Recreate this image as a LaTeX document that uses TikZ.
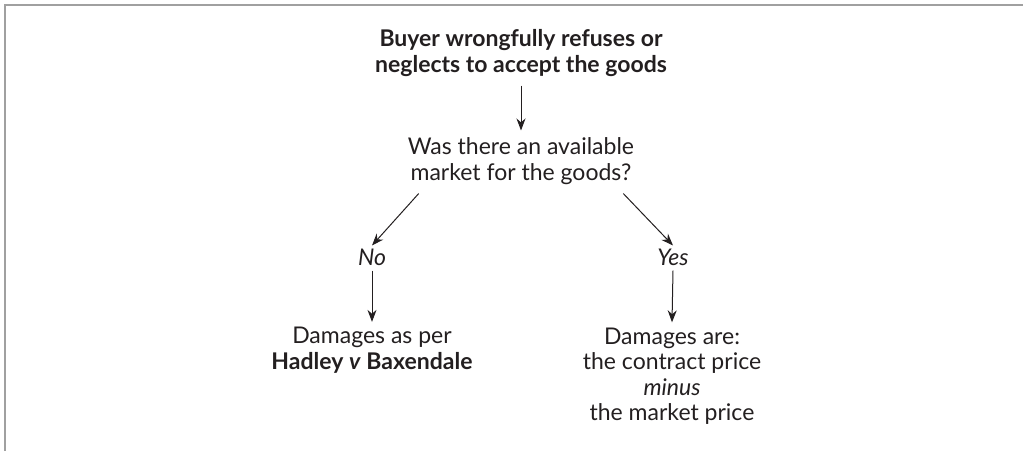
\documentclass[tikz,border=0pt]{standalone}
\usepackage{fontspec}
\setmainfont{Lato}
\usepackage{tikz}
\usetikzlibrary{arrows.meta,positioning,calc}
\definecolor{framegrey}{RGB}{160,160,160}
\definecolor{inkgrey}{RGB}{35,31,32}
\tikzset{
  step text/.style={
    align=center,
    inner sep=3pt,
    text=inkgrey,
    font=\fontsize{23}{25.5}\selectfont
  },
  branch/.style={step text, font=\fontsize{23}{25.5}\selectfont\itshape},
  line/.style={-{Stealth[length=12pt,width=9pt]}, line width=1pt, draw=inkgrey}
}
\begin{document}
\begin{tikzpicture}[x=1pt, y=-1pt]
        \useasboundingbox (0,0) rectangle (1023,451);
        \draw[framegrey, line width=2.5pt] (5,451) -- (5,5) -- (1023,5);
        \node[step text, font=\fontsize{23}{25.5}\selectfont\bfseries] (buyer) at (521,53) {Buyer wrongfully refuses or\\neglects to accept the goods};
        \node[step text] (market) at (521,161) {Was there an available\\market for the goods?};
        \node[branch] (no) at (372,257) {No};
        \node[branch] (yes) at (673,257) {Yes};
        \node[step text] (hadley) at (372,350) {Damages as per\\\textbf{Hadley \textit{v} Baxendale}};
        \node[step text] (diff) at (672,376) {Damages are:\\the contract price\\\textit{minus}\\the market price};
        \draw[line] ([yshift=-6pt]buyer.south) -- ([yshift=4pt]market.north);
        \draw[line] ([xshift=14pt,yshift=-6pt]market.south west) -- (no.north);
        \draw[line] ([xshift=-14pt,yshift=-6pt]market.south east) -- (yes.north);
        \draw[line] ([yshift=-2pt]no.south) -- ([yshift=2pt]hadley.north);
        \draw[line] ([yshift=-2pt]yes.south) -- ([yshift=2pt]diff.north);
      \end{tikzpicture}
\end{document}
